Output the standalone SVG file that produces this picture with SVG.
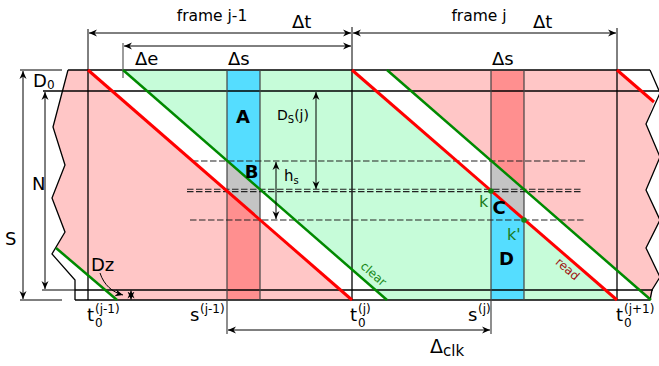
<svg xmlns="http://www.w3.org/2000/svg" width="659" height="366" viewBox="0 0 659 366">
<style>
text{font-family:"DejaVu Sans","Liberation Sans",sans-serif;fill:#000}
.ln{stroke:#000;stroke-width:1.3;fill:none}
.thin{stroke:#000;stroke-width:1;fill:none}
.gray{stroke:#666;stroke-width:1.3;fill:none}
.col{stroke:#444;stroke-width:1.2;fill:none}
.dash{stroke:#222;stroke-width:1.1;stroke-dasharray:6.5,2.5;fill:none}
.red{stroke:#ff0000;stroke-width:3;fill:none}
.grn{stroke:#008a00;stroke-width:2.5;fill:none}
.pink{fill:#ffc6c6}
.mint{fill:#c6fcd9}
.dpink{fill:#ff8f8f}
.cyan{fill:#55ddff}
.gcell{fill:#c4c4c4}
.big{font-size:18px}
.bold{font-size:18px;font-weight:bold}
.sup{font-size:12px}
.gt{fill:#1a7a1a}
</style>
<defs>
<marker id="ah" viewBox="-8 -4 9 8" refX="0" refY="0" markerWidth="9" markerHeight="8" markerUnits="userSpaceOnUse" orient="auto-start-reverse">
<path d="M0,0 L-8,-3.5 L-5.5,0 L-8,3.5 Z" fill="#000"/>
</marker>
</defs>

<g id="regions">
<polygon class="pink" points="68,70 88,70 352,300 117,300 56,248 65,232 52,198 65,165 53,127"/>
<polygon class="mint" points="123,70 352,70 617,300 387,300"/>
<polygon class="pink" points="387,70 617,70 654,102 646,124 660,157 646,190 660,220 646,248 660,277 652,290 651,300"/>
</g>

<g id="column-j-1">
<polygon class="cyan" points="227,70 260,70 260,189.4 227,160.6"/>
<polygon class="gcell" points="227,160.6 260,189.4 260,219.8 227,191"/>
<polygon class="dpink" points="227,191 260,219.8 260,300 227,300"/>
</g>
<g id="column-j">
<polygon class="dpink" points="491,70 524,70 524,189.3 491,160.6"/>
<polygon class="gcell" points="491,160.6 524,189.3 524,219.8 491,191"/>
<polygon class="cyan" points="491,191 524,219.8 524,300 491,300"/>
</g>

<g id="frame-lines">
<polyline class="ln" points="68,70 53,127 65,165 52,198 65,232 52,254 75,280 75,300"/>
<polyline class="ln" points="650,70 660,93 646,124 660,157 646,190 660,220 646,248 660,277 652,290 650,300"/>
<line class="ln" x1="68" y1="70" x2="650" y2="70"/>
<line class="ln" x1="43" y1="91" x2="659" y2="91"/>
<line class="ln" x1="75" y1="290" x2="653" y2="290"/>
<line class="ln" x1="75" y1="300" x2="650" y2="300"/>
<line class="thin" x1="20" y1="70" x2="62" y2="70"/>
<line class="thin" x1="20" y1="300" x2="62" y2="300"/>
<line class="thin" x1="42" y1="290" x2="75" y2="290"/>
<line class="thin" x1="88" y1="29" x2="88" y2="70"/>
<line class="thin" x1="352" y1="27" x2="352" y2="70"/>
<line class="thin" x1="617" y1="28" x2="617" y2="70"/>
<line class="ln" x1="88" y1="70" x2="88" y2="300"/>
<line class="ln" x1="352" y1="70" x2="352" y2="300"/>
<line class="ln" x1="617" y1="70" x2="617" y2="300"/>
<line class="gray" x1="123" y1="43" x2="123" y2="78"/>
<rect class="col" x="227" y="70" width="33" height="230"/>
<rect class="col" x="491" y="70" width="33" height="230"/>
<line class="col" x1="227" y1="300" x2="227" y2="334"/>
<line class="col" x1="491" y1="300" x2="491" y2="334"/>
</g>

<g id="dashed">
<line class="dash" x1="192" y1="161" x2="585" y2="161"/>
<line class="dash" x1="187" y1="189.3" x2="582" y2="189.3"/>
<line class="dash" x1="187" y1="191.6" x2="582" y2="191.6"/>
<line class="dash" x1="190" y1="220" x2="585" y2="220"/>
</g>

<g id="readout-lines">
<line class="grn" x1="56" y1="248" x2="117" y2="300"/>
<line class="grn" x1="123" y1="70" x2="387" y2="300"/>
<line class="grn" x1="387" y1="70" x2="651" y2="300"/>
<line class="red" x1="88" y1="70" x2="352" y2="300"/>
<line class="red" x1="352" y1="70" x2="617" y2="300"/>
<line class="red" x1="617" y1="70" x2="654" y2="102"/>
<circle cx="491" cy="191" r="2.8" fill="#118811"/>
<circle cx="524" cy="220" r="2.8" fill="#118811"/>
</g>

<g id="connectors">
<line class="thin" x1="89" y1="33" x2="351" y2="33" marker-start="url(#ah)" marker-end="url(#ah)"/>
<line class="thin" x1="353" y1="33" x2="616" y2="33" marker-start="url(#ah)" marker-end="url(#ah)"/>
<line class="thin" x1="124" y1="46" x2="351" y2="46" marker-start="url(#ah)" marker-end="url(#ah)"/>
<line class="thin" x1="23" y1="71" x2="23" y2="299" marker-start="url(#ah)" marker-end="url(#ah)"/>
<line class="thin" x1="45" y1="92" x2="45" y2="289" marker-start="url(#ah)" marker-end="url(#ah)"/>
<line class="thin" x1="316" y1="92" x2="316" y2="189" marker-start="url(#ah)" marker-end="url(#ah)"/>
<line class="thin" x1="276" y1="162" x2="276" y2="219" marker-start="url(#ah)" marker-end="url(#ah)"/>
<line class="thin" x1="228" y1="330" x2="490" y2="330" marker-start="url(#ah)" marker-end="url(#ah)"/>
<line class="thin" x1="131" y1="290.5" x2="131" y2="299.5" marker-start="url(#ah)" marker-end="url(#ah)"/>
<path class="thin" d="M100,273 C104,285 112,292 123,295" marker-end="url(#ah)"/>
</g>

<g id="labels">
<text x="212" y="21" font-size="15.5" text-anchor="middle">frame j-1</text>
<text x="479" y="21" font-size="15.5" text-anchor="middle">frame j</text>
<text x="292" y="28" class="big">Δt</text>
<text x="533" y="28" class="big">Δt</text>
<text x="135" y="65" class="big">Δe</text>
<text x="228" y="65" class="big">Δs</text>
<text x="492" y="65" class="big">Δs</text>
<text x="33" y="87" class="big">D<tspan font-size="12" dy="2">0</tspan></text>
<text x="32" y="190" class="big">N</text>
<text x="5" y="245" class="big">S</text>
<text x="91" y="271" class="big">Dz</text>
<text x="243" y="123" class="bold" text-anchor="middle">A</text>
<text x="251.5" y="178" class="bold" text-anchor="middle">B</text>
<text x="499" y="214" class="bold" text-anchor="middle">C</text>
<text x="506.5" y="265" class="bold" text-anchor="middle">D</text>
<text x="277" y="120" font-size="14">D<tspan font-size="10" dy="3">S</tspan><tspan dy="-3">(j)</tspan></text>
<text x="284" y="181" font-size="15">h<tspan font-size="10" dy="3">s</tspan></text>
<text x="479" y="207" font-size="16" class="gt">k</text>
<text x="507" y="240" font-size="16" class="gt">k'</text>
<text x="373.5" y="278" font-size="12" style="fill:#1a8a1a" text-anchor="middle" transform="rotate(41 373.5 274)">clear</text>
<text x="567.5" y="273" font-size="12" style="fill:#a01414" text-anchor="middle" transform="rotate(41 567.5 269)">read</text>
<text x="87" y="321" class="big">t</text><text x="95" y="313" class="sup">(j-1)</text><text x="95" y="327" class="sup">0</text>
<text x="190" y="321" class="big">s</text><text x="200" y="313" class="sup">(j-1)</text>
<text x="350" y="321" class="big">t</text><text x="358" y="313" class="sup">(j)</text><text x="358" y="327" class="sup">0</text>
<text x="468" y="321" class="big">s</text><text x="478" y="313" class="sup">(j)</text>
<text x="616" y="321" class="big">t</text><text x="624" y="313" class="sup">(j+1)</text><text x="624" y="327" class="sup">0</text>
<text x="430" y="353" font-size="19">Δ<tspan font-size="15" dy="3">clk</tspan></text>
</g>
</svg>
